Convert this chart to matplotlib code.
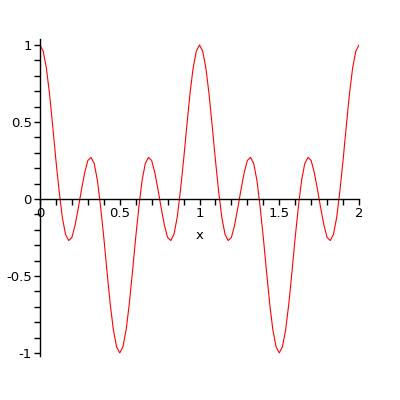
import matplotlib
matplotlib.use('Agg')
import matplotlib.pyplot as plt
from matplotlib.ticker import MultipleLocator

# valores (passo 0.02 em x)
x_vals = [round(0.02 * i, 2) for i in range(101)]
y_vals = [1.00, 0.96, 0.85, 0.68, 0.47, 0.25, 0.05, -0.12, -0.23, -0.27,
          -0.25, -0.17, -0.06, 0.06, 0.17, 0.25, 0.27, 0.23, 0.12, -0.05,
          -0.25, -0.47, -0.68, -0.85, -0.96, -1.00,
          -0.96, -0.85, -0.68, -0.47, -0.25, -0.05, 0.12, 0.23, 0.27, 0.25,
          0.17, 0.06, -0.06, -0.17, -0.25, -0.27, -0.23, -0.12, 0.05, 0.25,
          0.47, 0.68, 0.85, 0.96, 1.00,
          0.96, 0.85, 0.68, 0.47, 0.25, 0.05, -0.12, -0.23, -0.27,
          -0.25, -0.17, -0.06, 0.06, 0.17, 0.25, 0.27, 0.23, 0.12, -0.05,
          -0.25, -0.47, -0.68, -0.85, -0.96, -1.00,
          -0.96, -0.85, -0.68, -0.47, -0.25, -0.05, 0.12, 0.23, 0.27, 0.25,
          0.17, 0.06, -0.06, -0.17, -0.25, -0.27, -0.23, -0.12, 0.05, 0.25,
          0.47, 0.68, 0.85, 0.96, 1.00]
x_ticks = [0, 0.5, 1, 1.5, 2]
x_labels = ['0', '0.5', '1', '1.5', '2']
y_ticks = [-1, -0.5, 0, 0.5, 1]
y_labels = ['-1', '-0.5', '0', '0.5', '1']

fig = plt.figure(figsize=(4, 4), dpi=100)
ax = fig.add_axes([0.1, 0.11, 0.7975, 0.7925])
ax.plot(x_vals, y_vals, color='red', linewidth=0.8)

ax.set_xlim(0, 2)
ax.set_ylim(-1.02, 1.039)

# eixos cruzando na origem, estilo Maple
ax.spines['left'].set_position(('data', 0))
ax.spines['bottom'].set_position(('data', 0))
ax.spines['top'].set_visible(False)
ax.spines['right'].set_visible(False)
for s in ('left', 'bottom'):
    ax.spines[s].set_linewidth(1.0)

ax.set_xticks(x_ticks)
ax.set_xticklabels(x_labels)
ax.set_yticks(y_ticks)
ax.set_yticklabels(y_labels)
ax.xaxis.set_minor_locator(MultipleLocator(0.1))
ax.yaxis.set_minor_locator(MultipleLocator(0.1))
ax.tick_params(which='both', direction='out', length=4, width=1, labelsize=9.5, pad=2)

ax.text(1, -0.24, 'x', ha='center', va='center', fontsize=9.5)

fig.savefig('out.png', dpi=100)
